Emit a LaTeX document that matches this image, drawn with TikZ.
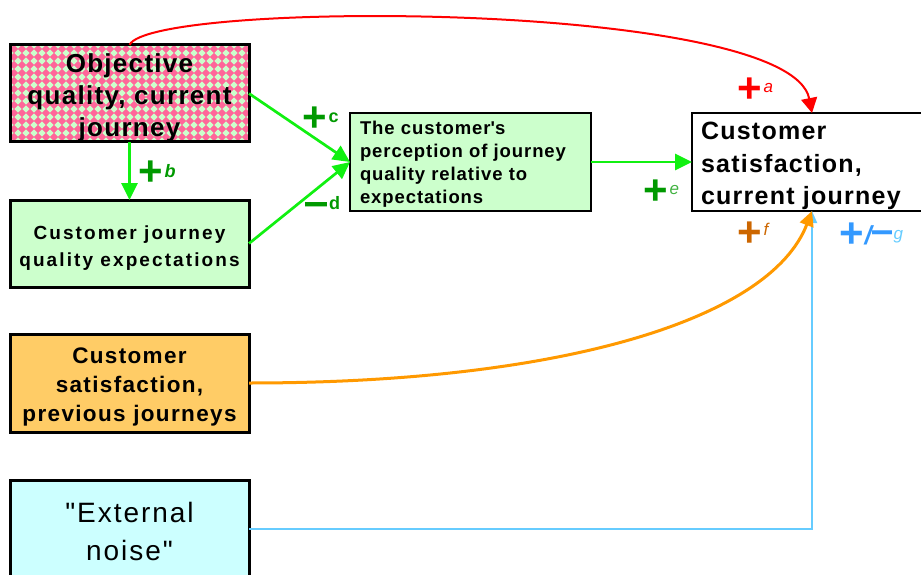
\documentclass[tikz,border=0pt]{standalone}
\usepackage{fontspec}
\setmainfont{Liberation Sans}
\newfontfamily\boxfont{Liberation Sans}[LetterSpace=5]
\newfontfamily\expectfont{Liberation Sans}[LetterSpace=11]
\newfontfamily\previousfont{Liberation Sans}[LetterSpace=6]
\newfontfamily\noisefont{Liberation Sans}[LetterSpace=7]
\newfontfamily\perceptfont{Liberation Sans}[LetterSpace=5]
\newcommand\toplift[1]{\rule{0pt}{#1}}
\usetikzlibrary{arrows.meta,positioning}
\definecolor{JourneyInk}{gray}{0.0}
\definecolor{QualityPink}{HTML}{FF6699}
\definecolor{QualityMint}{HTML}{CCFFCC}
\definecolor{PreviousFill}{HTML}{FFCC66}
\definecolor{NoiseFill}{HTML}{CCFFFF}
\definecolor{LinkRed}{HTML}{FF0000}
\definecolor{LinkGreen}{HTML}{11F011}
\definecolor{LinkOrange}{HTML}{FF9900}
\definecolor{LinkBlue}{HTML}{66CCFF}
\definecolor{SignGreen}{HTML}{009900}
\definecolor{SignOrange}{HTML}{CC6600}
\definecolor{SignBlue}{HTML}{3399FF}
\tikzset{
    journey/diagram/.style={
        x=1pt, y=-1pt,
        line cap=butt,
        line join=miter
    },
    journey/box/.style={
        draw=JourneyInk, line width=3pt, inner sep=0pt, outer sep=0pt,
        anchor=north west, minimum width=239pt, minimum height=97pt,
        align=center
    },
    journey/link/.style={
        line width=2.7pt,
        -{Triangle[length=17pt, width=16pt]}
    },
    journey/sign/.style={inner sep=0pt, font=\bfseries\fontsize{42}{42}\selectfont},
    journey/tag/.style={inner sep=0pt, font=\itshape\fontsize{17}{17}\selectfont}
}

\begin{document}
\begin{tikzpicture}[journey/diagram]
    \useasboundingbox (0,0) rectangle (921,575);
    \begin{scope}
        \clip (10,45) rectangle (249,142);
        \fill[QualityPink] (10,45) rectangle (249,142);
        \foreach \x in {10,18,...,258} {
            \foreach \y in {45,53,...,150} {
                \fill[QualityMint] (\x,\y) +(0,-3.7) -- +(3.7,0) -- +(0,3.7) -- +(-3.7,0) -- cycle;
            }
        }
    \end{scope}
    \node[journey/box, font=\boxfont\bfseries\fontsize{26}{32}\selectfont]
        (objective) at (10,45) {\toplift{27pt}Objective\\quality, current\\journey};
    \node[journey/box, fill=QualityMint, minimum height=87pt,
        font=\expectfont\bfseries\fontsize{19}{27}\selectfont]
        (expect) at (10,200) {\toplift{22pt}Customer journey\\quality expectations};
    \node[journey/box, fill=PreviousFill, minimum height=98pt,
        font=\previousfont\bfseries\fontsize{22.5}{29}\selectfont]
        (previous) at (10,334) {\toplift{24.5pt}Customer\\satisfaction,\\previous journeys};
    \node[journey/box, fill=NoiseFill, minimum height=98pt,
        font=\noisefont\fontsize{28}{38}\selectfont]
        (noise) at (10,480) {\toplift{24.5pt}"External\\noise"};
    \node[journey/box, fill=QualityMint, line width=2.5pt, align=left,
        minimum width=241pt, minimum height=98pt, inner xsep=10pt, text width=221pt,
        font=\perceptfont\bfseries\fontsize{18.5}{23}\selectfont]
        (percept) at (350,113)
        {\toplift{18.5pt}The customer\textquotesingle s\\perception of\ journey\\quality relative to\\expectations};
    \node[journey/box, fill=white, line width=2pt, align=left,
        minimum width=240pt, minimum height=98pt, inner xsep=9pt, text width=222pt,
        font=\boxfont\bfseries\fontsize{25}{32.5}\selectfont]
        (current) at (692,113) {\toplift{25.5pt}Customer\\satisfaction,\\current journey};
    \draw[journey/link, LinkRed, line width=2pt,
        -{Triangle[length=15pt, width=16pt]}]
        (objective.north) .. controls +(20,-45) and +(-22,-113) .. (current.north);
    \draw[journey/link, LinkGreen] (objective.south) -- (expect.north);
    \draw[journey/link, LinkGreen] (objective.east) -- (percept.west);
    \draw[journey/link, LinkGreen] (expect.east) -- (percept.west);
    \draw[journey/link, LinkGreen] (percept.east) -- (current.west);
    \draw[journey/link, LinkBlue, line width=2pt,
        -{Triangle[length=12pt, width=10pt]}]
        (noise.east) -| (current.south);
    \draw[journey/link, LinkOrange, line width=3pt,
        -{Triangle[length=15pt, width=14pt]}]
        (previous.east) .. controls +(311,0) and +(-42,109) .. (current.south);
    \node[journey/sign, text=LinkRed] (signa) at (750,90.5) {+};
    \node[journey/tag, text=LinkRed, right=1pt of signa, yshift=2pt] (taga) {a};
    \node[journey/sign, text=SignGreen] (signb) at (151,173.5) {+};
    \node[journey/tag, text=SignGreen, font=\bfseries\itshape\fontsize{18}{18}\selectfont,
        right=1pt of signb, yshift=2pt] (tagb) {b};
    \node[journey/sign, text=SignGreen] (signc) at (315,119.5) {+};
    \node[journey/tag, text=SignGreen, font=\bfseries\fontsize{18}{18}\selectfont,
        right=1pt of signc, yshift=2pt] (tagc) {c};
    \node[journey/sign, text=SignGreen, font=\bfseries\fontsize{22}{22}\selectfont]
        (signd) at (316,210) {\scalebox{1}[2]{—}};
    \node[journey/tag, text=SignGreen, font=\bfseries\fontsize{18}{18}\selectfont,
        anchor=west] (tagd) at (329,203) {d};
    \node[journey/sign, text=SignGreen] (signe) at (656,192.5) {+};
    \node[journey/tag, text=SignGreen!75, right=1pt of signe, yshift=2pt] (tage) {e};
    \node[journey/sign, text=SignOrange] (signf) at (750,234.5) {+};
    \node[journey/tag, text=SignOrange, right=1pt of signf, yshift=5pt] (tagf) {f};
    \node[journey/sign, text=SignBlue] (signg) at (852,235.5) {+};
    \node[journey/sign, text=SignBlue, font=\bfseries\itshape\fontsize{26}{26}\selectfont,
        right=0pt of signg] (slashg) {/};
    \node[journey/sign, text=SignBlue, font=\bfseries\fontsize{20}{20}\selectfont,
        right=0pt of slashg, yshift=-2pt] (dashg) {\scalebox{1}[2]{—}};
    \node[journey/tag, text=LinkBlue, right=1pt of dashg, yshift=1pt] (tagg) {g};
\end{tikzpicture}
\end{document}
